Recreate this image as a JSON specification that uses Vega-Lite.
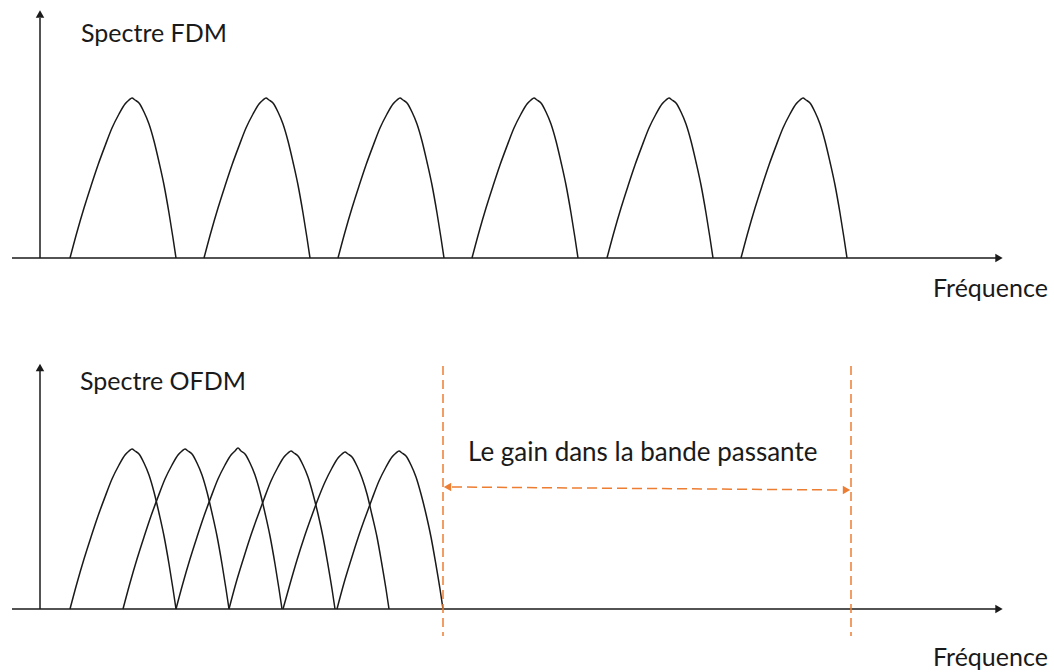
{
  "$schema": "https://vega.github.io/schema/vega-lite/v6.json",
  "padding": 0,
  "spacing": 0,
  "background": "white",
  "config": {"view": {"stroke": null}},
  "datasets": {
    "top": [
      {"s":"T1","f":70,"a":0},{"s":"T1","f":77,"a":26},{"s":"T1","f":84,"a":50},{"s":"T1","f":91,"a":72},{"s":"T1","f":98,"a":93},{"s":"T1","f":105,"a":112},{"s":"T1","f":112,"a":130},{"s":"T1","f":119,"a":144},{"s":"T1","f":125,"a":154},{"s":"T1","f":129,"a":158},{"s":"T1","f":132,"a":160},{"s":"T1","f":135,"a":158},{"s":"T1","f":139,"a":155},{"s":"T1","f":144,"a":146},{"s":"T1","f":149,"a":134},{"s":"T1","f":154,"a":117},{"s":"T1","f":159,"a":96},{"s":"T1","f":164,"a":73},{"s":"T1","f":169,"a":45},{"s":"T1","f":173,"a":20},{"s":"T1","f":176,"a":0},
      {"s":"T2","f":204,"a":0},{"s":"T2","f":211,"a":26},{"s":"T2","f":218,"a":50},{"s":"T2","f":225,"a":72},{"s":"T2","f":232,"a":93},{"s":"T2","f":239,"a":112},{"s":"T2","f":246,"a":130},{"s":"T2","f":253,"a":144},{"s":"T2","f":259,"a":154},{"s":"T2","f":263,"a":158},{"s":"T2","f":266,"a":160},{"s":"T2","f":269,"a":158},{"s":"T2","f":273,"a":155},{"s":"T2","f":278,"a":146},{"s":"T2","f":283,"a":134},{"s":"T2","f":288,"a":117},{"s":"T2","f":293,"a":96},{"s":"T2","f":298,"a":73},{"s":"T2","f":303,"a":45},{"s":"T2","f":307,"a":20},{"s":"T2","f":310,"a":0},
      {"s":"T3","f":338,"a":0},{"s":"T3","f":345,"a":26},{"s":"T3","f":352,"a":50},{"s":"T3","f":359,"a":72},{"s":"T3","f":366,"a":93},{"s":"T3","f":373,"a":112},{"s":"T3","f":380,"a":130},{"s":"T3","f":387,"a":144},{"s":"T3","f":393,"a":154},{"s":"T3","f":397,"a":158},{"s":"T3","f":400,"a":160},{"s":"T3","f":403,"a":158},{"s":"T3","f":407,"a":155},{"s":"T3","f":412,"a":146},{"s":"T3","f":417,"a":134},{"s":"T3","f":422,"a":117},{"s":"T3","f":427,"a":96},{"s":"T3","f":432,"a":73},{"s":"T3","f":437,"a":45},{"s":"T3","f":441,"a":20},{"s":"T3","f":444,"a":0},
      {"s":"T4","f":472,"a":0},{"s":"T4","f":479,"a":26},{"s":"T4","f":486,"a":50},{"s":"T4","f":493,"a":72},{"s":"T4","f":500,"a":93},{"s":"T4","f":507,"a":112},{"s":"T4","f":514,"a":130},{"s":"T4","f":521,"a":144},{"s":"T4","f":527,"a":154},{"s":"T4","f":531,"a":158},{"s":"T4","f":534,"a":160},{"s":"T4","f":537,"a":158},{"s":"T4","f":541,"a":155},{"s":"T4","f":546,"a":146},{"s":"T4","f":551,"a":134},{"s":"T4","f":556,"a":117},{"s":"T4","f":561,"a":96},{"s":"T4","f":566,"a":73},{"s":"T4","f":571,"a":45},{"s":"T4","f":575,"a":20},{"s":"T4","f":578,"a":0},
      {"s":"T5","f":607,"a":0},{"s":"T5","f":614,"a":26},{"s":"T5","f":621,"a":50},{"s":"T5","f":628,"a":72},{"s":"T5","f":635,"a":93},{"s":"T5","f":642,"a":112},{"s":"T5","f":649,"a":130},{"s":"T5","f":656,"a":144},{"s":"T5","f":662,"a":154},{"s":"T5","f":666,"a":158},{"s":"T5","f":669,"a":160},{"s":"T5","f":672,"a":158},{"s":"T5","f":676,"a":155},{"s":"T5","f":681,"a":146},{"s":"T5","f":686,"a":134},{"s":"T5","f":691,"a":117},{"s":"T5","f":696,"a":96},{"s":"T5","f":701,"a":73},{"s":"T5","f":706,"a":45},{"s":"T5","f":710,"a":20},{"s":"T5","f":713,"a":0},
      {"s":"T6","f":741,"a":0},{"s":"T6","f":748,"a":26},{"s":"T6","f":755,"a":50},{"s":"T6","f":762,"a":72},{"s":"T6","f":769,"a":93},{"s":"T6","f":776,"a":112},{"s":"T6","f":783,"a":130},{"s":"T6","f":790,"a":144},{"s":"T6","f":796,"a":154},{"s":"T6","f":800,"a":158},{"s":"T6","f":803,"a":160},{"s":"T6","f":806,"a":158},{"s":"T6","f":810,"a":155},{"s":"T6","f":815,"a":146},{"s":"T6","f":820,"a":134},{"s":"T6","f":825,"a":117},{"s":"T6","f":830,"a":96},{"s":"T6","f":835,"a":73},{"s":"T6","f":840,"a":45},{"s":"T6","f":844,"a":20},{"s":"T6","f":847,"a":0}
    ],
    "bottom": [
      {"s":"B1","f":70,"a":0},{"s":"B1","f":77,"a":26},{"s":"B1","f":84,"a":50},{"s":"B1","f":91,"a":72},{"s":"B1","f":98,"a":93},{"s":"B1","f":105,"a":112},{"s":"B1","f":112,"a":130},{"s":"B1","f":119,"a":144},{"s":"B1","f":125,"a":154},{"s":"B1","f":129,"a":158},{"s":"B1","f":132,"a":160},{"s":"B1","f":135,"a":158},{"s":"B1","f":139,"a":155},{"s":"B1","f":144,"a":146},{"s":"B1","f":149,"a":134},{"s":"B1","f":154,"a":117},{"s":"B1","f":159,"a":96},{"s":"B1","f":164,"a":73},{"s":"B1","f":169,"a":45},{"s":"B1","f":173,"a":20},{"s":"B1","f":176,"a":0},
      {"s":"B2","f":123,"a":0},{"s":"B2","f":130,"a":26},{"s":"B2","f":137,"a":50},{"s":"B2","f":144,"a":72},{"s":"B2","f":151,"a":93},{"s":"B2","f":158,"a":112},{"s":"B2","f":165,"a":130},{"s":"B2","f":172,"a":144},{"s":"B2","f":178,"a":154},{"s":"B2","f":182,"a":158},{"s":"B2","f":185,"a":160},{"s":"B2","f":188,"a":158},{"s":"B2","f":192,"a":155},{"s":"B2","f":197,"a":146},{"s":"B2","f":202,"a":134},{"s":"B2","f":207,"a":117},{"s":"B2","f":212,"a":96},{"s":"B2","f":217,"a":73},{"s":"B2","f":222,"a":45},{"s":"B2","f":226,"a":20},{"s":"B2","f":229,"a":0},
      {"s":"B3","f":176,"a":0},{"s":"B3","f":183,"a":26},{"s":"B3","f":190,"a":50},{"s":"B3","f":197,"a":72},{"s":"B3","f":204,"a":93},{"s":"B3","f":211,"a":112},{"s":"B3","f":218,"a":130},{"s":"B3","f":225,"a":144},{"s":"B3","f":231,"a":154},{"s":"B3","f":235,"a":158},{"s":"B3","f":238,"a":161},{"s":"B3","f":241,"a":158},{"s":"B3","f":245,"a":155},{"s":"B3","f":250,"a":146},{"s":"B3","f":255,"a":134},{"s":"B3","f":260,"a":117},{"s":"B3","f":265,"a":96},{"s":"B3","f":270,"a":73},{"s":"B3","f":275,"a":45},{"s":"B3","f":279,"a":20},{"s":"B3","f":282,"a":0},
      {"s":"B4","f":229,"a":0},{"s":"B4","f":236,"a":26},{"s":"B4","f":243,"a":49},{"s":"B4","f":250,"a":71},{"s":"B4","f":257,"a":91},{"s":"B4","f":264,"a":110},{"s":"B4","f":271,"a":128},{"s":"B4","f":278,"a":142},{"s":"B4","f":284,"a":152},{"s":"B4","f":288,"a":156},{"s":"B4","f":291,"a":158},{"s":"B4","f":294,"a":156},{"s":"B4","f":298,"a":153},{"s":"B4","f":303,"a":144},{"s":"B4","f":308,"a":132},{"s":"B4","f":313,"a":115},{"s":"B4","f":318,"a":95},{"s":"B4","f":323,"a":72},{"s":"B4","f":328,"a":44},{"s":"B4","f":332,"a":20},{"s":"B4","f":335,"a":0},
      {"s":"B5","f":283,"a":0},{"s":"B5","f":290,"a":25},{"s":"B5","f":297,"a":49},{"s":"B5","f":304,"a":71},{"s":"B5","f":311,"a":91},{"s":"B5","f":318,"a":110},{"s":"B5","f":325,"a":127},{"s":"B5","f":332,"a":141},{"s":"B5","f":338,"a":151},{"s":"B5","f":342,"a":155},{"s":"B5","f":345,"a":157},{"s":"B5","f":348,"a":155},{"s":"B5","f":352,"a":152},{"s":"B5","f":357,"a":143},{"s":"B5","f":362,"a":131},{"s":"B5","f":367,"a":115},{"s":"B5","f":372,"a":94},{"s":"B5","f":377,"a":72},{"s":"B5","f":382,"a":44},{"s":"B5","f":386,"a":20},{"s":"B5","f":389,"a":0},
      {"s":"B6","f":337,"a":0},{"s":"B6","f":344,"a":26},{"s":"B6","f":351,"a":49},{"s":"B6","f":358,"a":71},{"s":"B6","f":365,"a":91},{"s":"B6","f":372,"a":110},{"s":"B6","f":379,"a":128},{"s":"B6","f":386,"a":142},{"s":"B6","f":392,"a":152},{"s":"B6","f":396,"a":156},{"s":"B6","f":399,"a":158},{"s":"B6","f":402,"a":156},{"s":"B6","f":406,"a":153},{"s":"B6","f":411,"a":144},{"s":"B6","f":416,"a":132},{"s":"B6","f":421,"a":115},{"s":"B6","f":426,"a":95},{"s":"B6","f":431,"a":72},{"s":"B6","f":436,"a":44},{"s":"B6","f":440,"a":20},{"s":"B6","f":443,"a":0}
    ]
  },
  "vconcat": [
    {
      "width": 1054,
      "height": 336,
      "layer": [
        {
          "data": {"name": "top"},
          "mark": {"type": "line", "color": "#1a1a1a", "strokeWidth": 1.5, "interpolate": "monotone"},
          "encoding": {
            "x": {"field": "f", "type": "quantitative", "scale": {"domain": [0, 1054], "nice": false, "zero": false}, "axis": null},
            "y": {"field": "a", "type": "quantitative", "scale": {"domain": [-78, 258], "nice": false, "zero": false}, "axis": null},
            "detail": {"field": "s"}
          }
        },
        {
          "data": {"values": [{"f": 12, "a": 0, "f2": 996, "a2": 0}, {"f": 40, "a": 0, "f2": 40, "a2": 240}]},
          "mark": {"type": "rule", "color": "#1a1a1a", "strokeWidth": 1.5},
          "encoding": {
            "x": {"field": "f", "type": "quantitative", "scale": {"domain": [0, 1054], "nice": false, "zero": false}, "axis": null},
            "y": {"field": "a", "type": "quantitative", "scale": {"domain": [-78, 258], "nice": false, "zero": false}, "axis": null},
            "x2": {"field": "f2"},
            "y2": {"field": "a2"}
          }
        },
        {
          "data": {"values": [{"f": 999, "a": 0}]},
          "mark": {"type": "point", "shape": "triangle-right", "filled": true, "opacity": 1, "color": "#1a1a1a", "size": 72},
          "encoding": {
            "x": {"field": "f", "type": "quantitative", "scale": {"domain": [0, 1054], "nice": false, "zero": false}, "axis": null},
            "y": {"field": "a", "type": "quantitative", "scale": {"domain": [-78, 258], "nice": false, "zero": false}, "axis": null}
          }
        },
        {
          "data": {"values": [{"f": 40, "a": 244}]},
          "mark": {"type": "point", "shape": "triangle-up", "filled": true, "opacity": 1, "color": "#1a1a1a", "size": 72},
          "encoding": {
            "x": {"field": "f", "type": "quantitative", "scale": {"domain": [0, 1054], "nice": false, "zero": false}, "axis": null},
            "y": {"field": "a", "type": "quantitative", "scale": {"domain": [-78, 258], "nice": false, "zero": false}, "axis": null}
          }
        },
        {
          "data": {"values": [{"f": 81, "a": 216, "label": "Spectre FDM"}, {"f": 933, "a": -39, "label": "Fréquence"}]},
          "mark": {"type": "text", "align": "left", "baseline": "alphabetic", "font": "Lato", "fontSize": 25, "color": "#1a1a1a"},
          "encoding": {
            "x": {"field": "f", "type": "quantitative", "scale": {"domain": [0, 1054], "nice": false, "zero": false}, "axis": null},
            "y": {"field": "a", "type": "quantitative", "scale": {"domain": [-78, 258], "nice": false, "zero": false}, "axis": null},
            "text": {"field": "label"}
          }
        }
      ]
    },
    {
      "width": 1054,
      "height": 336,
      "layer": [
        {
          "data": {"name": "bottom"},
          "mark": {"type": "line", "color": "#1a1a1a", "strokeWidth": 1.5, "interpolate": "monotone"},
          "encoding": {
            "x": {"field": "f", "type": "quantitative", "scale": {"domain": [0, 1054], "nice": false, "zero": false}, "axis": null},
            "y": {"field": "a", "type": "quantitative", "scale": {"domain": [-63, 273], "nice": false, "zero": false}, "axis": null},
            "detail": {"field": "s"}
          }
        },
        {
          "data": {"values": [{"f": 12, "a": 0, "f2": 996, "a2": 0}, {"f": 40, "a": 0, "f2": 40, "a2": 238}]},
          "mark": {"type": "rule", "color": "#1a1a1a", "strokeWidth": 1.5},
          "encoding": {
            "x": {"field": "f", "type": "quantitative", "scale": {"domain": [0, 1054], "nice": false, "zero": false}, "axis": null},
            "y": {"field": "a", "type": "quantitative", "scale": {"domain": [-63, 273], "nice": false, "zero": false}, "axis": null},
            "x2": {"field": "f2"},
            "y2": {"field": "a2"}
          }
        },
        {
          "data": {"values": [{"f": 999, "a": 0}]},
          "mark": {"type": "point", "shape": "triangle-right", "filled": true, "opacity": 1, "color": "#1a1a1a", "size": 72},
          "encoding": {
            "x": {"field": "f", "type": "quantitative", "scale": {"domain": [0, 1054], "nice": false, "zero": false}, "axis": null},
            "y": {"field": "a", "type": "quantitative", "scale": {"domain": [-63, 273], "nice": false, "zero": false}, "axis": null}
          }
        },
        {
          "data": {"values": [{"f": 40, "a": 241.5}]},
          "mark": {"type": "point", "shape": "triangle-up", "filled": true, "opacity": 1, "color": "#1a1a1a", "size": 72},
          "encoding": {
            "x": {"field": "f", "type": "quantitative", "scale": {"domain": [0, 1054], "nice": false, "zero": false}, "axis": null},
            "y": {"field": "a", "type": "quantitative", "scale": {"domain": [-63, 273], "nice": false, "zero": false}, "axis": null}
          }
        },
        {
          "data": {"values": [{"f": 443, "a": 243, "f2": 443, "a2": -27}, {"f": 851, "a": 243, "f2": 851, "a2": -27}]},
          "mark": {"type": "rule", "color": "#ED7D31", "strokeWidth": 1.5, "strokeDash": [9, 5]},
          "encoding": {
            "x": {"field": "f", "type": "quantitative", "scale": {"domain": [0, 1054], "nice": false, "zero": false}, "axis": null},
            "y": {"field": "a", "type": "quantitative", "scale": {"domain": [-63, 273], "nice": false, "zero": false}, "axis": null},
            "x2": {"field": "f2"},
            "y2": {"field": "a2"}
          }
        },
        {
          "data": {"values": [{"f": 452, "a": 122, "f2": 842, "a2": 119}]},
          "mark": {"type": "rule", "color": "#ED7D31", "strokeWidth": 1.5, "strokeDash": [10, 5]},
          "encoding": {
            "x": {"field": "f", "type": "quantitative", "scale": {"domain": [0, 1054], "nice": false, "zero": false}, "axis": null},
            "y": {"field": "a", "type": "quantitative", "scale": {"domain": [-63, 273], "nice": false, "zero": false}, "axis": null},
            "x2": {"field": "f2"},
            "y2": {"field": "a2"}
          }
        },
        {
          "data": {"values": [{"f": 447.5, "a": 122}]},
          "mark": {"type": "point", "shape": "triangle-left", "filled": true, "opacity": 1, "color": "#ED7D31", "size": 72},
          "encoding": {
            "x": {"field": "f", "type": "quantitative", "scale": {"domain": [0, 1054], "nice": false, "zero": false}, "axis": null},
            "y": {"field": "a", "type": "quantitative", "scale": {"domain": [-63, 273], "nice": false, "zero": false}, "axis": null}
          }
        },
        {
          "data": {"values": [{"f": 846.5, "a": 119}]},
          "mark": {"type": "point", "shape": "triangle-right", "filled": true, "opacity": 1, "color": "#ED7D31", "size": 72},
          "encoding": {
            "x": {"field": "f", "type": "quantitative", "scale": {"domain": [0, 1054], "nice": false, "zero": false}, "axis": null},
            "y": {"field": "a", "type": "quantitative", "scale": {"domain": [-63, 273], "nice": false, "zero": false}, "axis": null}
          }
        },
        {
          "data": {"values": [{"f": 80, "a": 219, "label": "Spectre OFDM"}, {"f": 933, "a": -57, "label": "Fréquence"}]},
          "mark": {"type": "text", "align": "left", "baseline": "alphabetic", "font": "Lato", "fontSize": 25, "color": "#1a1a1a"},
          "encoding": {
            "x": {"field": "f", "type": "quantitative", "scale": {"domain": [0, 1054], "nice": false, "zero": false}, "axis": null},
            "y": {"field": "a", "type": "quantitative", "scale": {"domain": [-63, 273], "nice": false, "zero": false}, "axis": null},
            "text": {"field": "label"}
          }
        },
        {
          "data": {"values": [{"f": 468, "a": 148, "label": "Le gain dans la bande passante"}]},
          "mark": {"type": "text", "align": "left", "baseline": "alphabetic", "font": "Lato", "fontSize": 26, "color": "#1a1a1a"},
          "encoding": {
            "x": {"field": "f", "type": "quantitative", "scale": {"domain": [0, 1054], "nice": false, "zero": false}, "axis": null},
            "y": {"field": "a", "type": "quantitative", "scale": {"domain": [-63, 273], "nice": false, "zero": false}, "axis": null},
            "text": {"field": "label"}
          }
        }
      ]
    }
  ]
}
